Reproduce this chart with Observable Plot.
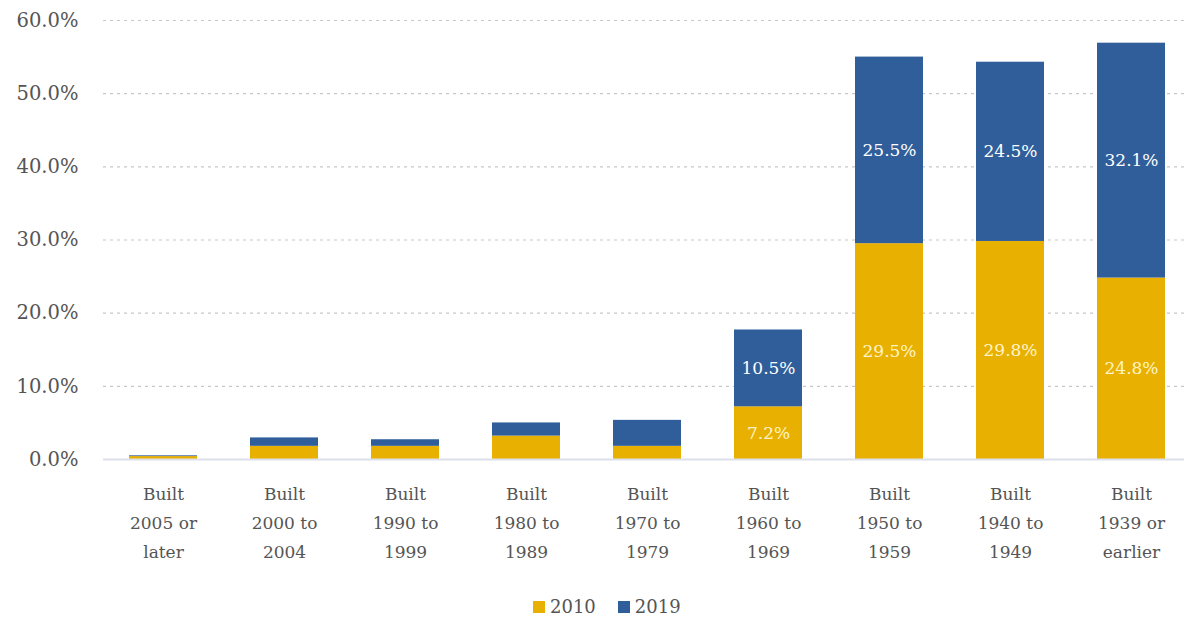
<!DOCTYPE html>
<html>
<head>
<meta charset="utf-8">
<script src="https://cdn.jsdelivr.net/npm/d3@7"></script>
<script src="https://cdn.jsdelivr.net/npm/@observablehq/plot@0.6"></script>
<style>
  html, body { margin: 0; padding: 0; background: #fff; }
  #chart { width: 1184px; }
  #legend { display: flex; gap: 22px; margin-left: 533px; margin-top: 16px;
            font: 18px "DejaVu Serif", serif; color: #555; }
  #legend span.sw { display: inline-block; width: 12px; height: 12px; margin-right: 5px; }
</style>
</head>
<body>
<div id="chart"></div>
<div id="legend"></div>
<script>
const categories = [
  "Built\n2005 or\nlater", "Built\n2000 to\n2004", "Built\n1990 to\n1999",
  "Built\n1980 to\n1989", "Built\n1970 to\n1979", "Built\n1960 to\n1969",
  "Built\n1950 to\n1959", "Built\n1940 to\n1949", "Built\n1939 or\nearlier"
];
const series = ["2010", "2019"];
const values2010 = [0.4, 1.8, 1.8, 3.2, 1.8, 7.2, 29.5, 29.8, 24.8];
const values2019 = [0.1, 1.15, 0.9, 1.8, 3.55, 10.5, 25.5, 24.5, 32.1];
const labelled = [false, false, false, false, false, true, true, true, true];
const colors = ["#E8B000", "#2F5E9B"];
const labelColors = ["#FFF4C8", "#FFFFFF"];
const yTicks = [0, 10, 20, 30, 40, 50, 60];

const data = [];
categories.forEach((c, i) => {
  data.push({cat: c, year: series[0], value: values2010[i], show: labelled[i]});
  data.push({cat: c, year: series[1], value: values2019[i], show: labelled[i]});
});

const font = '"DejaVu Serif", serif';
const plot = Plot.plot({
  width: 1184,
  height: 580,
  marginLeft: 103,
  marginRight: 0,
  marginTop: 20,
  marginBottom: 121,
  style: {fontFamily: font, fontSize: "17px", color: "#555", background: "#fff"},
  x: {domain: categories, paddingInner: 0.438, paddingOuter: 0.182, align: 0.568, label: null},
  y: {domain: [0, 60], label: null},
  color: {domain: series, range: colors},
  marks: [
    Plot.ruleY(yTicks.filter(d => d > 0), {stroke: "#c8c8c8", strokeDasharray: "3,4", strokeWidth: 1.2}),
    Plot.barY(data, {x: "cat", y: "value", fill: "year", order: series}),
    Plot.ruleY([0], {stroke: "#dde0ea", strokeWidth: 2}),
    Plot.text(data, Plot.stackY({
      x: "cat", y: "value", z: "year", order: series,
      filter: d => d.show,
      text: d => d.value.toFixed(1) + "%",
      fill: d => labelColors[series.indexOf(d.year)],
      fontSize: 17
    })),
    Plot.axisY({ticks: yTicks, tickSize: 0, tickPadding: 25, tickFormat: d => d.toFixed(1) + "%",
                fontSize: 19.5, fill: "#555"}),
    Plot.axisX({tickSize: 0, tickPadding: 20, lineHeight: 1.7, fontSize: 17, fill: "#555"})
  ]
});
document.getElementById("chart").appendChild(plot);

const legend = document.getElementById("legend");
series.forEach((s, i) => {
  const item = document.createElement("div");
  item.innerHTML = `<span class="sw" style="background:${colors[i]}"></span>${s}`;
  legend.appendChild(item);
});
</script>
</body>
</html>
